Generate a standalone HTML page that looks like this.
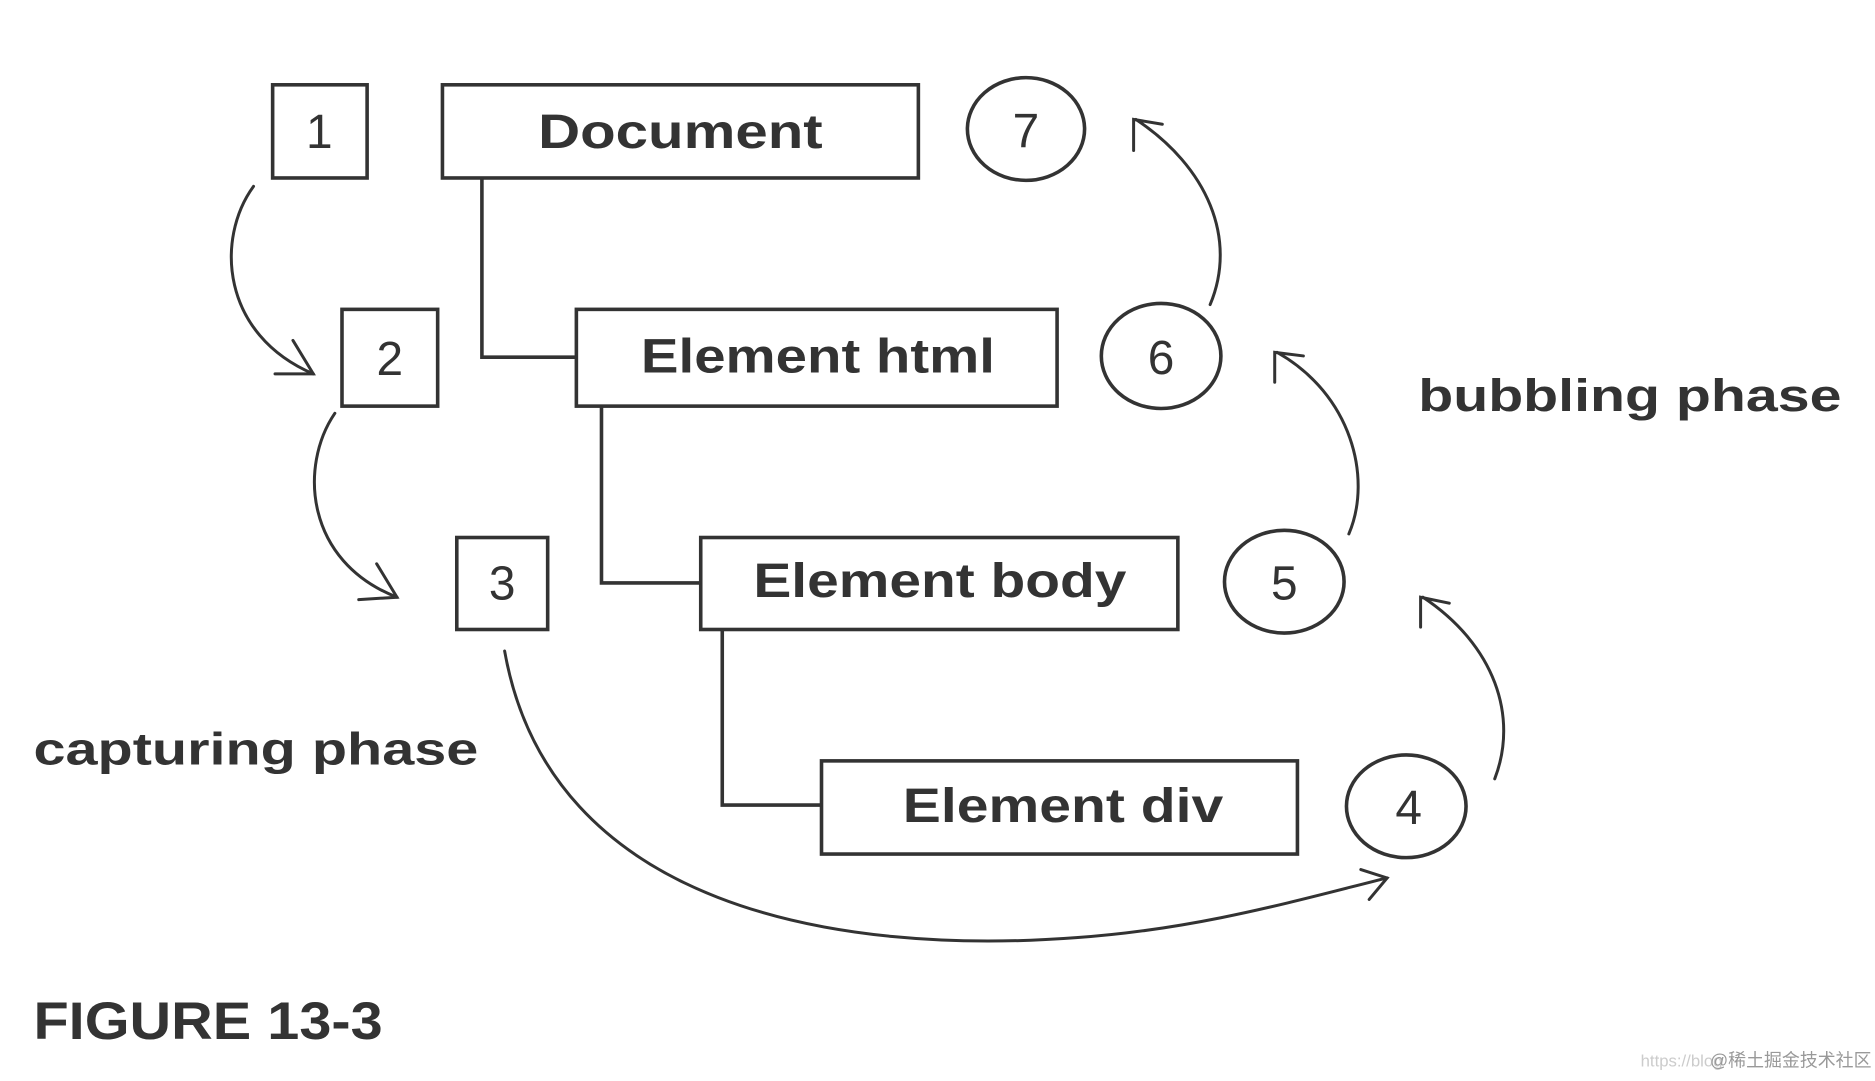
<!DOCTYPE html>
<html><head><meta charset="utf-8"><style>
html,body{margin:0;padding:0;background:#fff;}
svg{display:block;}
text{font-family:"Liberation Sans","Noto Sans CJK SC",sans-serif;font-weight:bold;fill:#333;}
text.n{font-weight:normal;}
</style></head><body>
<svg width="1875" height="1081" viewBox="0 0 1568 905" preserveAspectRatio="none">
<g fill="none" stroke="#333" stroke-width="3">
<rect x="228" y="71" width="79" height="78"/>
<rect x="370" y="71" width="398" height="78"/>
<ellipse cx="858" cy="108" rx="49" ry="43"/>
<rect x="286" y="259" width="80" height="81"/>
<rect x="482" y="259" width="402" height="81"/>
<ellipse cx="971" cy="298" rx="50" ry="44"/>
<rect x="382" y="450" width="76" height="77"/>
<rect x="586" y="450" width="399" height="77"/>
<ellipse cx="1074" cy="487" rx="50" ry="43"/>
<rect x="687" y="637" width="398" height="78"/>
<ellipse cx="1176" cy="675" rx="50" ry="43"/>
<polyline points="403,149 403,299 482,299"/>
<polyline points="503,340 503,488 586,488"/>
<polyline points="604,527 604,674 687,674"/>
</g>
<g fill="none" stroke="#333" stroke-width="2.5" stroke-linecap="round">
<path d="M212,156 C180,200 185,280 262,313"/>
<path d="M245,285 L262,313 L230,313"/>
<path d="M280,346 C250,390 255,470 332,500"/>
<path d="M315,472 L332,500 L300,502"/>
<path d="M422,545 C460,760 700,800 900,785 C1000,778 1080,755 1160,735"/>
<path d="M1138,728 L1160,735 L1145,753"/>
<path d="M1250,652 C1270,600 1250,540 1190,500"/>
<path d="M1188,525 L1188,500 L1212,505"/>
<path d="M1128,447 C1148,400 1130,330 1068,295"/>
<path d="M1066,320 L1066,295 L1090,298"/>
<path d="M1012,255 C1035,200 1010,140 950,100"/>
<path d="M948,126 L948,100 L972,104"/>
</g>
<text class="n" x="267" y="124" font-size="40" text-anchor="middle">1</text>
<text class="n" x="326" y="314" font-size="40" text-anchor="middle">2</text>
<text class="n" x="420" y="502" font-size="40" text-anchor="middle">3</text>
<text class="n" x="858" y="123" font-size="40" text-anchor="middle">7</text>
<text class="n" x="971" y="313" font-size="40" text-anchor="middle">6</text>
<text class="n" x="1074" y="502" font-size="40" text-anchor="middle">5</text>
<text class="n" x="1178" y="690" font-size="40" text-anchor="middle">4</text>
<text x="450" y="124" font-size="40" textLength="238" lengthAdjust="spacingAndGlyphs">Document</text>
<text x="536" y="312" font-size="40" textLength="296" lengthAdjust="spacingAndGlyphs">Element html</text>
<text x="630" y="500" font-size="40" textLength="312" lengthAdjust="spacingAndGlyphs">Element body</text>
<text x="755" y="688" font-size="40" textLength="268" lengthAdjust="spacingAndGlyphs">Element div</text>
<text x="1186" y="344" font-size="38" textLength="354" lengthAdjust="spacingAndGlyphs">bubbling phase</text>
<text x="28" y="640" font-size="38" textLength="372" lengthAdjust="spacingAndGlyphs">capturing phase</text>
<text x="28" y="870" font-size="44" textLength="292" lengthAdjust="spacingAndGlyphs">FIGURE 13-3</text>
<text class="n" x="1372" y="893" font-size="14" style="fill:#ccc">https://blog</text>
<text class="n" x="1430" y="893" font-size="15" style="fill:#999">@稀土掘金技术社区</text>
</svg>
</body></html>
